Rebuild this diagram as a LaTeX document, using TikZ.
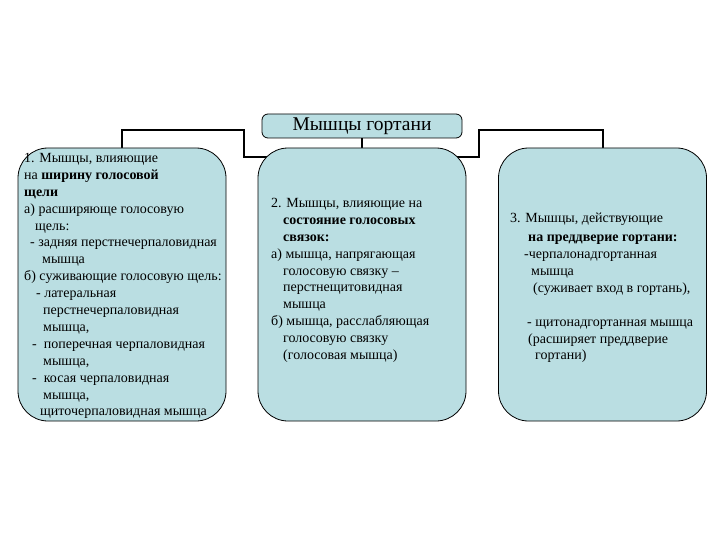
\documentclass[tikz,border=0pt]{standalone}
\usepackage{fontspec}
\setmainfont{Liberation Serif}
\usetikzlibrary{backgrounds}
\definecolor{boxfill}{RGB}{186,222,226}
\begin{document}
\begin{tikzpicture}[x=1pt,y=-1pt,
    grp/.style={draw=black,fill=boxfill,rounded corners=30pt,line width=0.8pt,minimum width=208pt,minimum height=273pt,inner sep=0pt},
    ttl/.style={draw=black,fill=boxfill,rounded corners=6pt,line width=0.8pt,minimum width=200pt,minimum height=24pt,inner sep=0pt,font=\fontsize{19.5}{21}\selectfont},
    txt/.style={anchor=north west,align=left,inner sep=0pt,font=\fontsize{14}{16.9}\selectfont},
    link/.style={draw=black,line width=2pt}]
                \useasboundingbox (0,0) rectangle (720,540);

                \node[ttl] (title) at (362,126) {Мышцы гортани};
                \node[grp] (left) at (122,284.5) {};
                \node[grp] (mid) at (362,284.5) {};
                \node[grp] (right) at (602.5,284.5) {};

                \coordinate (a) at (244,130);
                \coordinate (b) at (479,157);
                \coordinate (c) at (479,130);

                % connectors behind the boxes
                \begin{scope}[on background layer]
                \draw[link] (left.north) |- (a) |- (b) -- (c) -| (right.north);
                \draw[link] (title.south) -- (mid.north);
                \end{scope}

                \node[txt] (t1) at (24,153) {1. Мышцы, влияющие\\
                    на \textbf{ширину голосовой}\\
                    \textbf{щели}\\
                    а) расширяюще голосовую\\
                    \hspace*{11pt}щель:\\
                    \hspace*{6pt}-\ задняя перстнечерпаловидная\\
                    \hspace*{18pt}мышца\\
                    б) суживающие голосовую щель:\\
                    \hspace*{12pt}-\ латеральная\\
                    \hspace*{19pt}перстнечерпаловидная\\
                    \hspace*{19pt}мышца,\\
                    \hspace*{8pt}-\ \ поперечная черпаловидная\\
                    \hspace*{19pt}мышца,\\
                    \hspace*{8pt}-\ \ косая черпаловидная\\
                    \hspace*{19pt}мышца,\\
                    \hspace*{16pt}щиточерпаловидная мышца};

                \node[txt] (t2) at (271,198) {2. Мышцы, влияющие на\\
                    \hspace*{12pt}\textbf{состояние голосовых}\\
                    \hspace*{12pt}\textbf{связок:}\\
                    а) мышца, напрягающая\\
                    \hspace*{12pt}голосовую связку –\\
                    \hspace*{12pt}перстнещитовидная\\
                    \hspace*{12pt}мышца\\
                    б) мышца, расслабляющая\\
                    \hspace*{12pt}голосовую связку\\
                    \hspace*{12pt}(голосовая мышца)};

                \node[txt] (t3) at (510,213) {3. Мышцы, действующие\\[2pt]
                    \hspace*{18pt}\textbf{на преддверие гортани:}\\
                    \hspace*{14pt}-черпалонадгортанная\\
                    \hspace*{21pt}мышца\\
                    \hspace*{23pt}(суживает вход в гортань),\\
                    \mbox{}\\
                    \hspace*{17pt}-\ щитонадгортанная мышца\\
                    \hspace*{18pt}(расширяет преддверие\\
                    \hspace*{25pt}гортани)};
\end{tikzpicture}
\end{document}
